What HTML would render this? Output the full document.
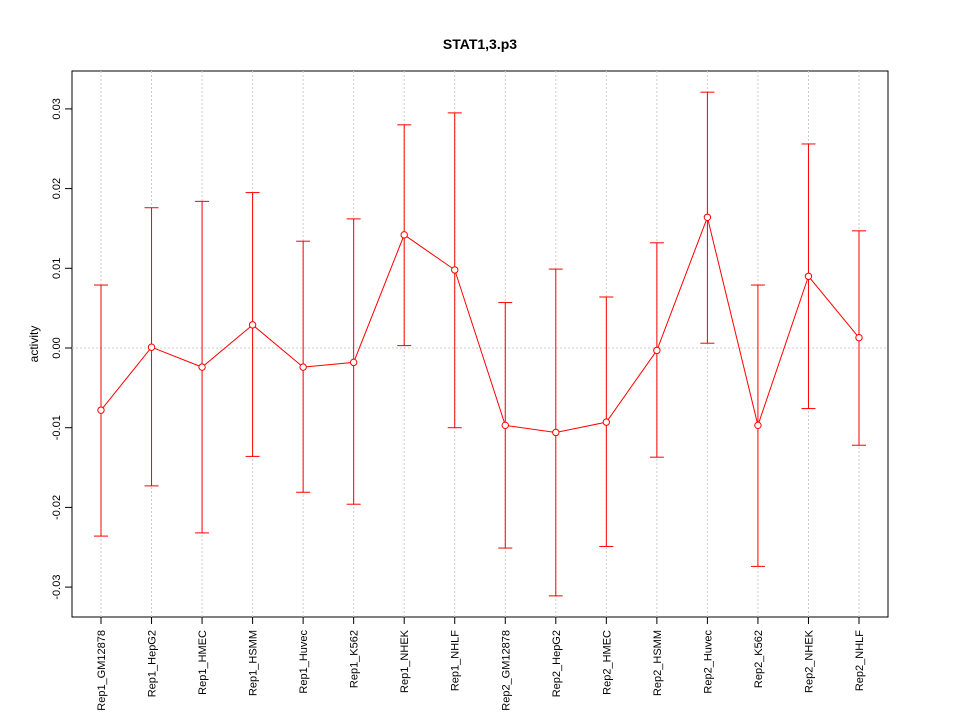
<!DOCTYPE html>
<html><head><meta charset="utf-8"><style>
body{margin:0;background:#fff;}
svg text{font-family:"Liberation Sans",sans-serif;}
</style></head><body>
<svg id="chart" width="960" height="720" xmlns="http://www.w3.org/2000/svg">
<rect width="960" height="720" fill="#fff"/>
<text x="480" y="49" text-anchor="middle" font-size="14" font-weight="bold">STAT1,3.p3</text>
<rect x="72" y="71" width="816" height="546" fill="none" stroke="#000"/>
<text transform="translate(38,344) rotate(-90)" text-anchor="middle" font-size="12">activity</text>
<g id="grid"></g><g id="yaxis"></g><g id="xaxis"></g><g id="series"></g>
</svg>
<script>
const categories=["Rep1_GM12878","Rep1_HepG2","Rep1_HMEC","Rep1_HSMM","Rep1_Huvec","Rep1_K562","Rep1_NHEK","Rep1_NHLF","Rep2_GM12878","Rep2_HepG2","Rep2_HMEC","Rep2_HSMM","Rep2_Huvec","Rep2_K562","Rep2_NHEK","Rep2_NHLF"];
const values=[-0.0078,0.0001,-0.0024,0.0029,-0.0024,-0.0018,0.0142,0.0098,-0.0097,-0.0106,-0.0093,-0.0003,0.0164,-0.0097,0.0090,0.0013];
const upper=[0.0079,0.0176,0.0184,0.0195,0.0134,0.0162,0.0280,0.0295,0.0057,0.0099,0.0064,0.0132,0.0321,0.0079,0.0256,0.0147];
const lower=[-0.0236,-0.0173,-0.0232,-0.0136,-0.0181,-0.0196,0.0003,-0.0100,-0.0251,-0.0311,-0.0249,-0.0137,0.0006,-0.0274,-0.0076,-0.0122];
const yTicks=[-0.03,-0.02,-0.01,0.00,0.01,0.02,0.03];
const yTickLabels=["-0.03","-0.02","-0.01","0.00","0.01","0.02","0.03"];
const NS="http://www.w3.org/2000/svg";
function xs(i){return 101+i*(859-101)/(categories.length-1);}
function ys(v){return 348-v*7970;}
function mk(tag,attrs,parent){const e=document.createElementNS(NS,tag);for(const k in attrs)e.setAttribute(k,attrs[k]);document.getElementById(parent).appendChild(e);return e;}
let e;
e=mk("line",{x1:72,x2:888,y1:ys(0),y2:ys(0),stroke:"#ccc","stroke-dasharray":"2,2"},"grid");


yTicks.forEach((t,i)=>{
 const y=ys(t);
 e=mk("line",{x1:65,x2:72,y1:y,y2:y,stroke:"#000"},"yaxis");
 
 
 e=mk("text",{x:0,y:0,transform:`translate(60,${y}) rotate(-90)`,"text-anchor":"middle","font-size":"11"},"yaxis");
 e.textContent=yTickLabels[i];
 
 
});
categories.forEach((c,i)=>{
 const x=xs(i);
 e=mk("line",{x1:x,x2:x,y1:71,y2:617,stroke:"#ccc","stroke-dasharray":"2,2"},"grid");
 
 
 e=mk("line",{x1:x,x2:x,y1:617,y2:624,stroke:"#000"},"xaxis");
 
 
 e=mk("text",{x:0,y:0,transform:`translate(${x+4},630) rotate(-90)`,"text-anchor":"end","font-size":"11"},"xaxis");
 e.textContent=c;
 
 
 const yu=ys(upper[i]),yl=ys(lower[i]);
 e=mk("line",{x1:x,x2:x,y1:yu,y2:yl,stroke:"#f00"},"series");
 
 
 e=mk("line",{x1:x-7,x2:x+7,y1:yu,y2:yu,stroke:"#f00"},"series");
 
 
 e=mk("line",{x1:x-7,x2:x+7,y1:yl,y2:yl,stroke:"#f00"},"series");
 
 
});
e=mk("polyline",{points:values.map((v,i)=>xs(i)+","+ys(v)).join(" "),fill:"none",stroke:"#f00"},"series");


values.forEach((v,i)=>{
 e=mk("circle",{cx:xs(i),cy:ys(v),r:3.2,fill:"#fff",stroke:"#f00"},"series");
 
 
});
</script>
</body></html>
